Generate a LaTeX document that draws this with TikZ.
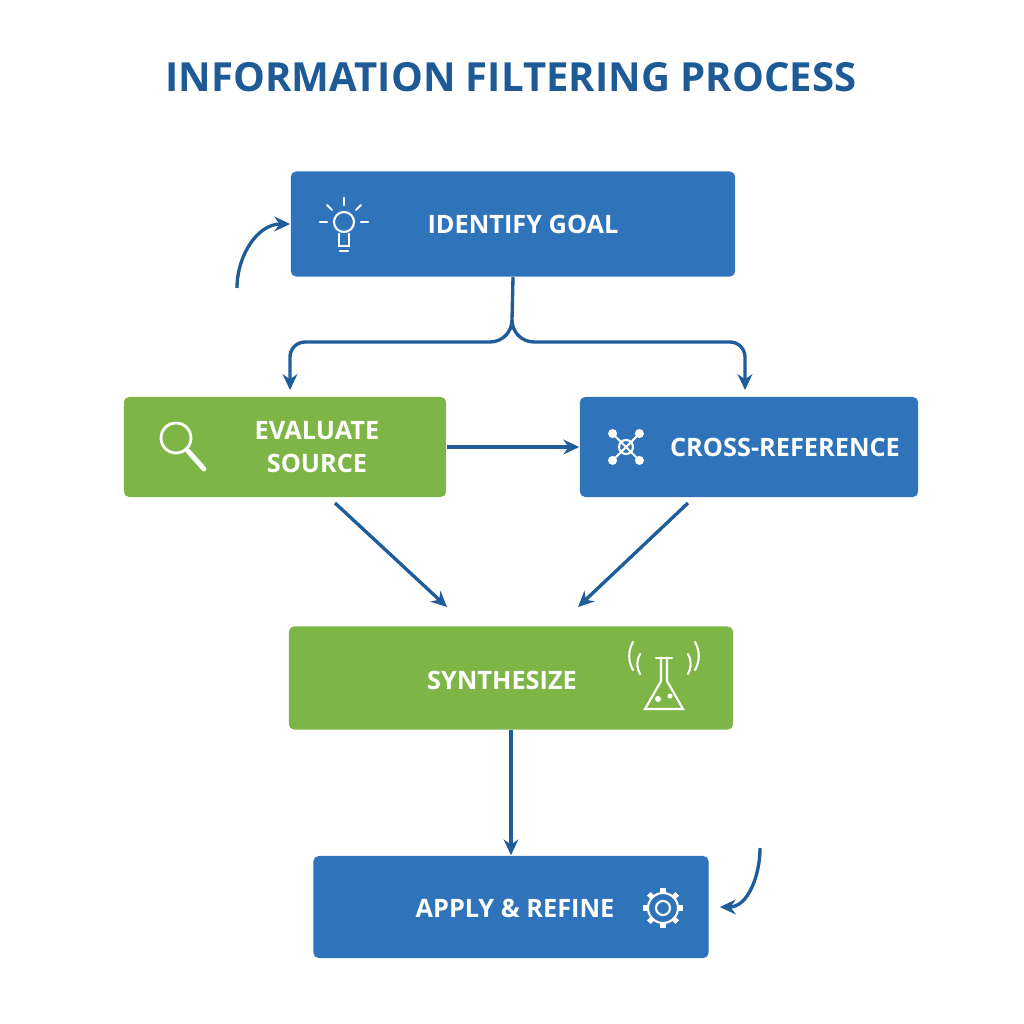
\documentclass[tikz,border=0pt]{standalone}
\usepackage{fontspec}
\setmainfont{Open Sans}
\usetikzlibrary{positioning,arrows.meta,calc}
\definecolor{stepblue}{HTML}{2F74BA}
\definecolor{stepgreen}{HTML}{7DB646}
\definecolor{titleblue}{HTML}{1E5A96}
\definecolor{linkblue}{HTML}{1F5C9A}
\tikzset{
  flow box/.style={rectangle, rounded corners=1.5pt, inner sep=0pt},
  blue box/.style={flow box, fill=stepblue},
  green box/.style={flow box, fill=stepgreen},
  box text/.style={font=\fontsize{7.2}{9.6}\selectfont\bfseries, text=white, align=center},
  link/.style={draw=linkblue, line width=0.95pt, -{Stealth[length=4.5pt,width=4.2pt]}},
  icon/.style={draw=white, line width=0.6pt, line cap=round}
}
\begin{document}
\begin{tikzpicture}[x=0.01cm, y=-0.01cm]
\useasboundingbox (0,0) rectangle (1024,1024);

\node[font=\fontsize{11.4}{13}\selectfont\bfseries, text=titleblue] (title) at (511,77) {INFORMATION FILTERING PROCESS};

% steps
\node[blue box, minimum width=4.44cm, minimum height=1.05cm] (goal) at (513,224) {};
\node[green box, minimum width=3.22cm, minimum height=1.0cm] (eval) at (285,447) {};
\node[blue box, minimum width=3.38cm, minimum height=1.0cm] (cross) at (749,447) {};
\node[green box, minimum width=4.44cm, minimum height=1.03cm] (synth) at (511,678) {};
\node[blue box, minimum width=3.95cm, minimum height=1.02cm] (apply) at (511,907) {};

\node[box text] (goaltxt) at (523,224) {IDENTIFY GOAL};
\node[box text] (evaltxt) at (317,447) {EVALUATE\\SOURCE};
\node[box text] (crosstxt) at (785,447) {CROSS-REFERENCE};
\node[box text] (synthtxt) at (502,680) {SYNTHESIZE};
\node[box text] (applytxt) at (515,908) {APPLY \& REFINE};

% icons
\draw[icon] (344,222) circle (10);
\draw[icon] (339,234) -- (339,246) -- (349,246) -- (349,234);
\draw[icon] (340,251) -- (348,251);
\foreach \a in {90,135,45,180,0}
  \draw[icon] ($(344,222)+(\a:-17)$) -- ($(344,222)+(\a:-24)$);
\draw[icon, line width=0.8pt] (176,438) circle (15);
\draw[icon, line width=1.4pt] (188,451) -- (204,469);
\coordinate (hub) at (626,447);
\foreach \a in {45,135,225,315} {
  \draw[icon] (hub) -- ++(\a:15);
  \fill[white] ($(hub)+(\a:19)$) circle (4.5);
}
\draw[icon] (hub) circle (7);
\begin{scope}[shift={(0,6)}]
\draw[icon] (661,652) -- (661,675) -- (645,703) -- (683,703) -- (667,675) -- (667,652);
\draw[icon] (656,652) -- (672,652);
\fill[white] (658,693) circle (3) (670,690) circle (2.5);
\draw[icon] (640,668) arc (150:210:20) (633,664) arc (150:210:28);
\draw[icon] (688,668) arc (30:-30:20) (695,664) arc (30:-30:28);
\end{scope}
\draw[icon] (663,908) circle (7);
\foreach \a in {0,45,...,315}
  \draw[icon, line width=1.5pt, line cap=butt] ($(663,908)+(\a:14)$) -- ($(663,908)+(\a:20)$);
\draw[icon] (663,908) circle (15);

% connectors
\draw[link] (goal.south) -- (512,320) to[out=-90,in=0] (490,342) -- (305,342)
  to[out=180,in=90] (290,357) -- (290,390);
\draw[link] (512,320) to[out=-90,in=180] (534,342) -- (730,342)
  to[out=0,in=90] (745,357) -- (745,390);
\draw[link] (eval.east) -- (cross.west);
\draw[link] (335,503) -- (447,607);
\draw[link] (688,503) -- (578,607);
\draw[link] (synth.south) -- (apply.north);
\coordinate (loopa) at (237,288);
\coordinate (loopb) at (760,848);
\draw[link] (loopa) to[out=90,in=180] (goal.west);
\draw[link] (loopb) to[out=-90,in=0] ([xshift=3pt]apply.east);
\end{tikzpicture}
\end{document}
